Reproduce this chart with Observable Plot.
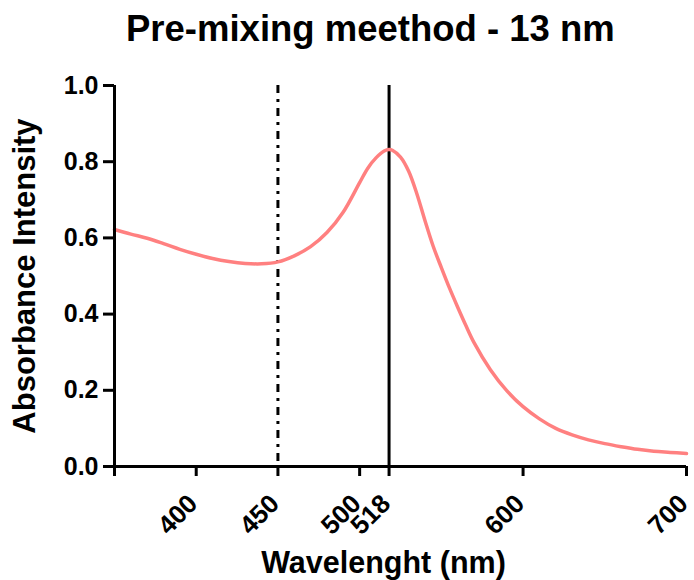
<!DOCTYPE html>
<html>
<head>
<meta charset="utf-8">
<script src="https://cdn.jsdelivr.net/npm/d3@7"></script>
<script src="https://cdn.jsdelivr.net/npm/@observablehq/plot@0.6"></script>
<style>
  html, body { margin: 0; padding: 0; background: #fff; }
  body { font-family: "Liberation Sans", Arial, Helvetica, sans-serif; }
  #head { position: relative; width: 694px; height: 70px; }
  #title { position: absolute; left: 126px; top: 11px; white-space: nowrap;
           font-size: 36.5px; line-height: 36px; font-weight: bold; color: #000; }
  #chart svg { display: block; }
</style>
</head>
<body>
<div id="head"><div id="title">Pre-mixing meethod - 13 nm</div></div>
<div id="chart"></div>
<script>
// Absorbance spectrum
const wavelength = [350, 360, 370, 380, 390, 400, 410, 420, 430, 440, 450, 460, 470, 480, 490,
  500, 505, 510, 515, 518, 520, 525, 530, 535, 540, 545, 550, 555, 560, 565, 570, 580, 590,
  600, 610, 620, 630, 640, 650, 660, 670, 680, 690, 700];
const absorbance = [0.622, 0.610, 0.599, 0.585, 0.570, 0.557, 0.546, 0.538, 0.533, 0.532, 0.537, 0.553, 0.577, 0.614, 0.668,
  0.745, 0.783, 0.810, 0.828, 0.832, 0.830, 0.812, 0.775, 0.716, 0.645, 0.578, 0.522, 0.468, 0.418, 0.370, 0.325, 0.254, 0.199,
  0.157, 0.125, 0.100, 0.083, 0.070, 0.060, 0.052, 0.045, 0.040, 0.037, 0.034];

const xTicks = [400, 450, 500, 518, 600, 700];
const xTickLabels = ["400", "450", "500", "518", "600", "700"];
const yTicks = [0, 0.2, 0.4, 0.6, 0.8, 1.0];
const markerDashed = [450];
const markerSolid = [518];
const xDomain = [350, 700];
const yDomain = [0, 1];
const xLabel = "Wavelenght (nm)";
const yLabel = "Absorbance Intensity";

const data = wavelength.map((w, i) => ({w, a: absorbance[i]}));
const xTickData = xTicks.map((v, i) => ({v, label: xTickLabels[i]}));

const chart = Plot.plot({
  width: 694,
  height: 510,
  marginLeft: 114,
  marginRight: 8,
  marginTop: 15,
  marginBottom: 114,
  style: {fontFamily: "'Liberation Sans', Arial, Helvetica, sans-serif", fontWeight: "bold", color: "#000", background: "#fff"},
  x: {domain: xDomain},
  y: {domain: yDomain},
  marks: [
    Plot.ruleX(markerDashed, {stroke: "#000", strokeWidth: 3, strokeDasharray: "8,6,3,6"}),
    Plot.ruleX(markerSolid, {stroke: "#000", strokeWidth: 3}),
    Plot.line(data, {x: "w", y: "a", stroke: "#FF8080", strokeWidth: 3.5, curve: "catmull-rom"}),
    Plot.axisY({ticks: yTicks, tickFormat: d3.format(".1f"), tickSize: 11, tickPadding: 5,
      fontSize: 25, fontWeight: "bold", strokeWidth: 3, label: null}),
    Plot.axisX({ticks: [xDomain[0], ...xTicks], tickFormat: () => "", tickSize: 10, strokeWidth: 3, label: null}),
    Plot.text(xTickData, {x: "v", text: "label", frameAnchor: "bottom", rotate: -45, textAnchor: "end",
      lineAnchor: "middle", dy: 33, dx: -3, fontSize: 26, fontWeight: "bold", fill: "#000"}),
    Plot.ruleX([xDomain[0]], {stroke: "#000", strokeWidth: 3}),
    Plot.ruleY([yDomain[0]], {stroke: "#000", strokeWidth: 3}),
    Plot.text([xLabel], {frameAnchor: "bottom", lineAnchor: "middle", textAnchor: "middle", dy: 97, dx: -17,
      fontSize: 30.5, fontWeight: "bold", fill: "#000", letterSpacing: "1.5px", text: d => d}),
    Plot.text([yLabel], {frameAnchor: "left", lineAnchor: "middle", textAnchor: "middle", rotate: -90, dx: -89,
      fontSize: 31, fontWeight: "bold", fill: "#000", text: d => d})
  ]
});
document.getElementById("chart").appendChild(chart);
</script>
</body>
</html>
